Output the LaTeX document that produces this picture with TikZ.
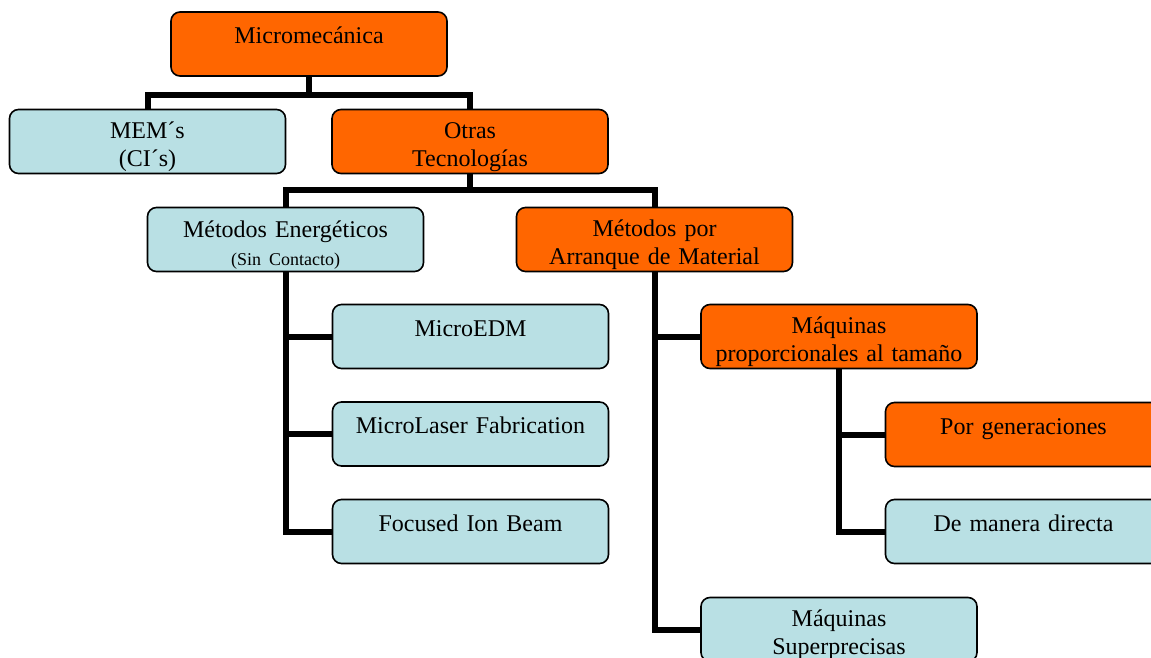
\documentclass[tikz,border=0pt]{standalone}
\usepackage{fontspec}
\setmainfont{Liberation Serif}
\usepackage{tikz}
\usetikzlibrary{positioning}
\definecolor{naranja}{RGB}{255,102,0}
\definecolor{celeste}{RGB}{185,224,228}

\begin{document}
\begin{tikzpicture}[x=1pt, y=-1pt,
  box/.style={rectangle, draw, line width=1.6pt, rounded corners=9pt, minimum width=276pt, minimum height=64pt, text width=270pt, align=center, inner sep=0pt, font=\fontsize{24}{28}\selectfont, execute at begin node={\rule{0pt}{27pt}}},
  orangebox/.style={box, fill=naranja},
  bluebox/.style={box, fill=celeste},
  conn/.style={line width=6pt, line join=miter}]
\clip (0,0) rectangle (1151,658);

% Top level
\node[orangebox] (micro) at (309,44) {Micromecánica\\~};
\node[bluebox] (mems) at (147.5,141.5) {MEM´s\\(CI´s)};
\node[orangebox] (otras) at (470,141.5) {Otras\\Tecnologías};

\draw[conn] (micro.south) -- ++(0,18) -| (mems.north);
\draw[conn] (micro.south) -- ++(0,18) -| (otras.north);

% Second level
\node[bluebox] (energ) at (285.5,239.5) {Métodos Energéticos\\{\fontsize{18}{20}\selectfont (Sin Contacto)}};
\node[orangebox] (arranque) at (654.5,239.5) {Métodos por\\Arranque de Material};

\draw[conn] (otras.south) -- ++(0,16) -| (energ.north);
\draw[conn] (otras.south) -- ++(0,16) -| (arranque.north);

% Metodos energeticos
\node[bluebox] (edm) at (470.5,336.5) {MicroEDM\\~};
\node[bluebox] (laser) at (470.5,434) {MicroLaser Fabrication\\~};
\node[bluebox] (fib) at (470.5,531.5) {Focused Ion Beam\\~};

\draw[conn] (energ.south) |- (edm.west);
\draw[conn] (energ.south) |- (laser.west);
\draw[conn] (energ.south) |- (fib.west);

% Arranque de material
\node[orangebox] (maqprop) at (839,336.5) {Máquinas\\proporcionales al tamaño};
\node[bluebox] (superp) at (839,629.5) {Máquinas\\Superprecisas};

\draw[conn] (arranque.south) |- (maqprop.west);
\draw[conn] (arranque.south) |- (superp.west);

\node[orangebox] (porgen) at (1023.5,434.5) {Por generaciones\\~};
\node[bluebox] (directa) at (1023.5,531.5) {De manera directa\\~};

\draw[conn] (maqprop.south) |- (porgen.west);
\draw[conn] (maqprop.south) |- (directa.west);

\end{tikzpicture}
\end{document}
